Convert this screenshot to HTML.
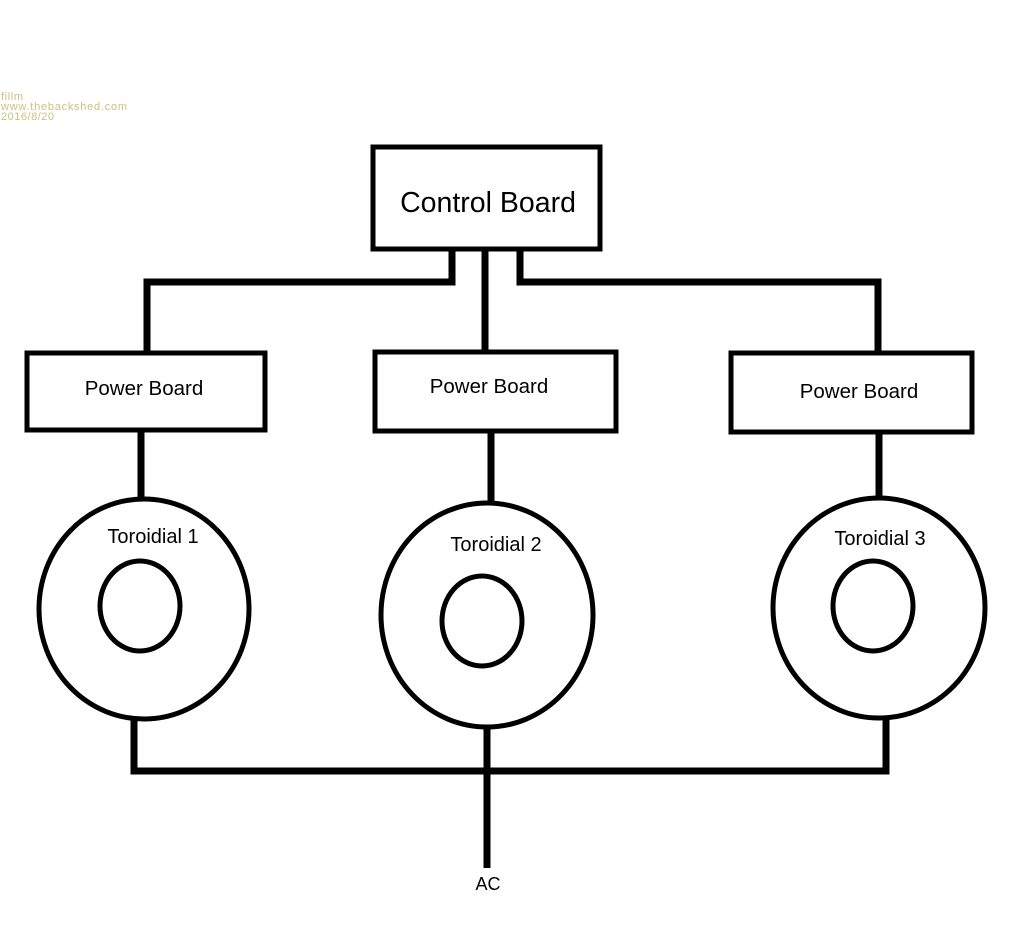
<!DOCTYPE html>
<html><head><meta charset="utf-8"><style>
body{margin:0;background:#fff;}
svg{display:block;}
text{font-family:"Liberation Sans",Arial,sans-serif;fill:#000;}
</style></head><body>
<svg width="1012" height="938" viewBox="0 0 1012 938" xmlns="http://www.w3.org/2000/svg">
<g font-size="11">
<text x="1" y="100" style="fill:#c9c27e" textLength="22">fillm</text>
<text x="1" y="110" style="fill:#c9c27e" textLength="126">www.thebackshed.com</text>
<text x="1" y="120" style="fill:#c9c27e" textLength="53">2016/8/20</text>
</g>
<g fill="none" stroke="#000" stroke-width="5">
<rect x="373" y="147" width="227" height="102"/>
<rect x="27" y="353" width="238" height="77"/>
<rect x="375" y="352" width="241" height="79"/>
<rect x="731" y="353" width="241" height="79"/>
<ellipse cx="144" cy="609" rx="105" ry="110"/>
<ellipse cx="140" cy="606" rx="40" ry="45"/>
<ellipse cx="487" cy="615" rx="106" ry="112"/>
<ellipse cx="482" cy="621" rx="40" ry="45"/>
<ellipse cx="879" cy="608" rx="106" ry="110"/>
<ellipse cx="873" cy="606" rx="40" ry="45"/>
</g>
<g fill="none" stroke="#000" stroke-width="7">
<polyline points="452,250 452,282 147,282 147,353"/>
<line x1="485" y1="250" x2="485" y2="351"/>
<polyline points="520,250 520,282 878,282 878,351"/>
<line x1="141" y1="431" x2="141" y2="499"/>
<line x1="491" y1="432" x2="491" y2="504"/>
<line x1="879" y1="433" x2="879" y2="497"/>
<polyline points="134,719 134,771 886,771 886,719"/>
<line x1="487" y1="727" x2="487" y2="868"/>
</g>
<text x="488" y="212" font-size="28.5" text-anchor="middle">Control Board</text>
<text x="144" y="395" font-size="20.5" text-anchor="middle">Power Board</text>
<text x="489" y="393" font-size="20.5" text-anchor="middle">Power Board</text>
<text x="859" y="398" font-size="20.5" text-anchor="middle">Power Board</text>
<text x="153" y="543" font-size="20" text-anchor="middle">Toroidial 1</text>
<text x="496" y="551" font-size="20" text-anchor="middle">Toroidial 2</text>
<text x="880" y="545" font-size="20" text-anchor="middle">Toroidial  3</text>
<text x="488" y="890" font-size="18" text-anchor="middle">AC</text>
</svg>
</body></html>
